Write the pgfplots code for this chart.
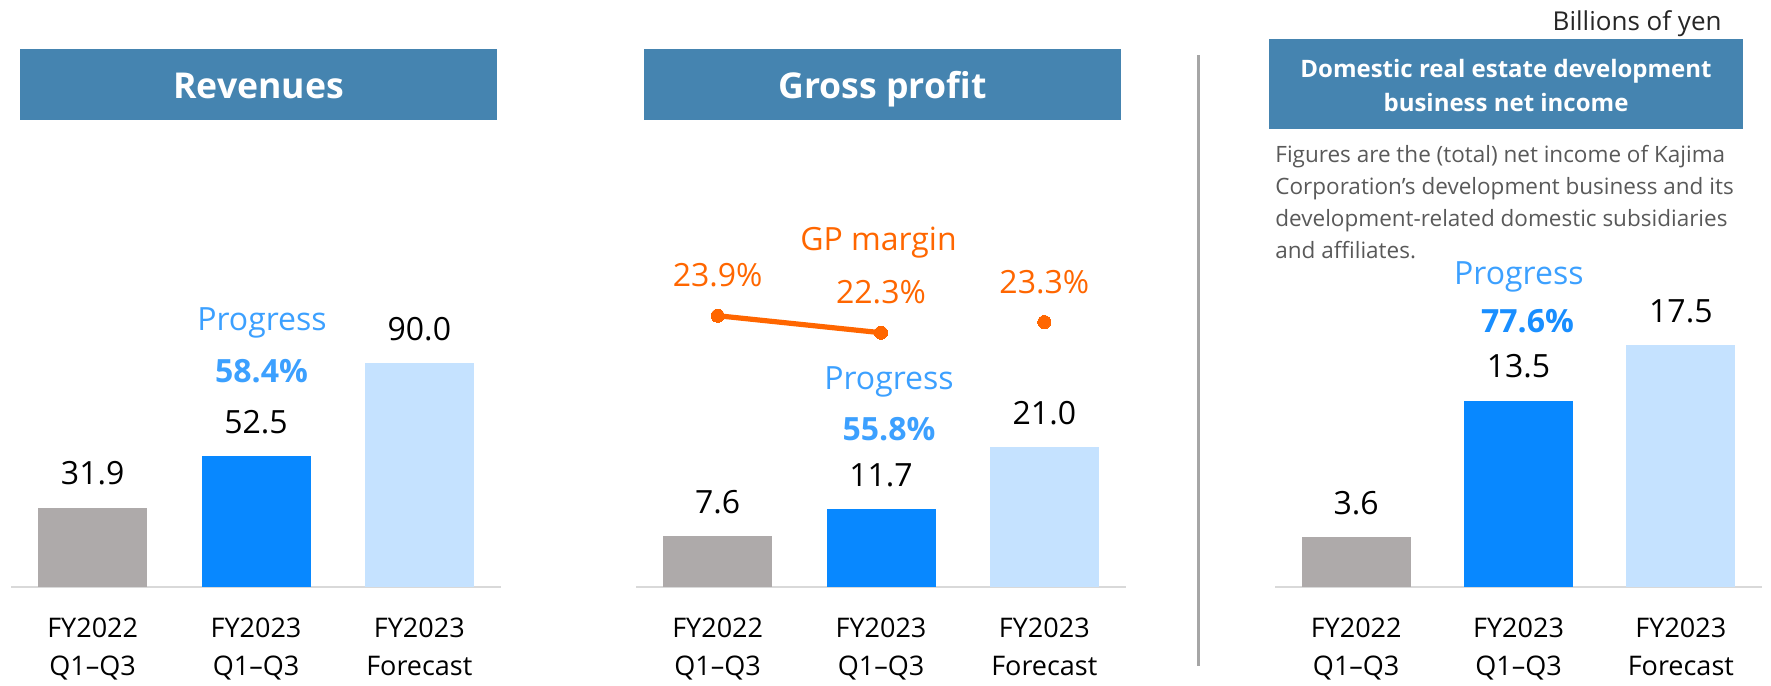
\documentclass[border=0pt]{standalone}
\usepackage{pgfplots}
\pgfplotsset{compat=1.18}
\usepackage{fontspec}
\setmainfont{Open Sans}

\definecolor{hdr}{RGB}{69,132,176}
\definecolor{bargray}{RGB}{174,170,170}
\definecolor{barblue}{RGB}{8,136,255}
\definecolor{barlight}{RGB}{197,226,255}
\definecolor{axgray}{RGB}{217,217,217}
\definecolor{sepgray}{RGB}{166,166,166}
\definecolor{gporange}{RGB}{255,102,0}
\definecolor{progblue}{RGB}{60,160,255}
\definecolor{progblue2}{RGB}{25,142,255}
\definecolor{notegray}{RGB}{89,89,89}
\definecolor{unitgray}{RGB}{38,38,38}

\newcommand\valfont{\fontsize{16}{19}\selectfont}
\newcommand\catfont{\fontsize{13.5}{18.75}\selectfont}
\newcommand\hdrfont{\fontsize{17.8}{21}\selectfont\bfseries}
\newcommand\domfont{\fontsize{12}{16.85}\selectfont\bfseries}
\newcommand\notefont{\fontsize{11.25}{16}\selectfont}
\newcommand\progfont{\fontsize{16}{19}\selectfont}
\newcommand\pctfont{\fontsize{16}{19}\selectfont\bfseries}

\pgfplotsset{
  panel/.style={
    scale only axis, width=245pt, height=230pt,
    xmin=-0.5, xmax=2.5, ymin=0,
    axis x line=bottom, axis y line=none,
    x axis line style={-, draw=axgray, line width=1.2pt},
    xtick={0,1,2},
    xticklabels={{FY2022\\Q1–Q3},{FY2023\\Q1–Q3},{FY2023\\Forecast}},
    xtick style={draw=none},
    xticklabel style={align=center, font=\catfont, text=black, inner sep=0pt, anchor=north, yshift=-11.2pt},
    ytick=\empty,
    ybar, bar width=54.5pt, bar shift=0pt,
    clip=false,
    nodes near coords={\pgfmathprintnumber[fixed,zerofill,precision=1,assume math mode=true]{\pgfplotspointmeta}},
    every node near coord/.append style={font=\valfont, text=black, inner sep=0pt, anchor=south, yshift=11pt},
  },
}

\begin{document}
\begin{tikzpicture}
\useasboundingbox (0pt,0pt) rectangle (885.5pt,-342.5pt);

% Revenues
\begin{axis}[panel, at={(5.5pt,-293.5pt)}, anchor=south west, ymax=184.7]
\addplot[fill=bargray, draw=none, bar shift=0pt] coordinates {(0,31.9)};
\addplot[fill=barblue, draw=none, bar shift=0pt] coordinates {(1,52.5)};
\addplot[fill=barlight, draw=none, bar shift=0pt] coordinates {(2,90.0)};
\end{axis}

% Gross profit
\begin{axis}[panel, at={(318pt,-293.5pt)}, anchor=south west, ymax=69.15]
\addplot[fill=bargray, draw=none, bar shift=0pt] coordinates {(0,7.6)};
\addplot[fill=barblue, draw=none, bar shift=0pt] coordinates {(1,11.7)};
\addplot[fill=barlight, draw=none, bar shift=0pt] coordinates {(2,21.0)};
\end{axis}

% GP margin
\begin{axis}[scale only axis, width=245pt, height=230pt, at={(318pt,-293.5pt)}, anchor=south west,
  xmin=-0.5, xmax=2.5, ymin=-1.63, ymax=41.66, hide axis, clip=false,
  nodes near coords={\pgfmathprintnumber[fixed,zerofill,precision=1,assume math mode=true]{\pgfplotspointmeta}\%},
  every node near coord/.append style={font=\valfont, text=gporange, inner sep=0pt, anchor=south, yshift=14.25pt}]
\addplot[gporange, line width=2.6pt, mark=*, mark size=3.3pt, mark options={fill=gporange, draw=gporange, line width=0pt}] coordinates {(0,23.9) (1,22.3)};
\addplot[gporange, only marks, mark=*, mark size=3.3pt, mark options={fill=gporange, draw=gporange, line width=0pt}] coordinates {(2,23.3)};
\end{axis}

% Domestic real estate
\begin{axis}[panel, width=243.5pt, at={(637.5pt,-293.5pt)}, anchor=south west, ymax=33.33]
\addplot[fill=bargray, draw=none, bar shift=0pt] coordinates {(0,3.6)};
\addplot[fill=barblue, draw=none, bar shift=0pt] coordinates {(1,13.5)};
\addplot[fill=barlight, draw=none, bar shift=0pt] coordinates {(2,17.5)};
\end{axis}

\begin{scope}[x=0.5pt, y=-0.5pt]
% headers
\fill[hdr] (20,49) rectangle (497,120);
\node[anchor=base, text=white, font=\hdrfont, inner sep=0pt] at (258.5,98) {Revenues};
\fill[hdr] (644,49) rectangle (1121,120);
\node[anchor=base, text=white, font=\hdrfont, inner sep=0pt] at (882.5,98) {Gross profit};
\fill[hdr] (1269,39.3) rectangle (1743,129.3);
\node[anchor=base, text=white, font=\domfont, inner sep=0pt] at (1506,77.3) {Domestic real estate development};
\node[anchor=base, text=white, font=\domfont, inner sep=0pt] at (1506,111) {business net income};
% unit
\node[anchor=base east, text=unitgray, font=\fontsize{13}{15}\selectfont, inner sep=0pt] at (1722,30.7) {Billions of yen};
% note
\node[anchor=base west, text=notegray, font=\notefont, inner sep=0pt] at (1275,162.3) {Figures are the (total) net income of Kajima};
\node[anchor=base west, text=notegray, font=\notefont, inner sep=0pt] at (1275,194.3) {Corporation’s development business and its};
\node[anchor=base west, text=notegray, font=\notefont, inner sep=0pt] at (1275,226.7) {development-related domestic subsidiaries};
\node[anchor=base west, text=notegray, font=\notefont, inner sep=0pt] at (1275,258.5) {and affiliates.};
% separator
\draw[sepgray, line width=1.25pt] (1198.5,55) -- (1198.5,666);
% progress annotations
\node[anchor=base, text=progblue, font=\progfont, inner sep=0pt] at (262,330.7) {Progress};
\node[anchor=base, text=progblue, font=\pctfont, inner sep=0pt] at (261.5,382.7) {58.4\%};
\node[anchor=base, text=gporange, font=\progfont, inner sep=0pt] at (878.5,250) {GP margin};
\node[anchor=base, text=progblue, font=\progfont, inner sep=0pt] at (889,389.3) {Progress};
\node[anchor=base, text=progblue, font=\pctfont, inner sep=0pt] at (889,440.7) {55.8\%};
\node[anchor=base, text=progblue, font=\progfont, inner sep=0pt] at (1518.8,284) {Progress};
\node[anchor=base, text=progblue2, font=\pctfont, inner sep=0pt] at (1527.5,332.3) {77.6\%};
\end{scope}
\end{tikzpicture}
\end{document}
